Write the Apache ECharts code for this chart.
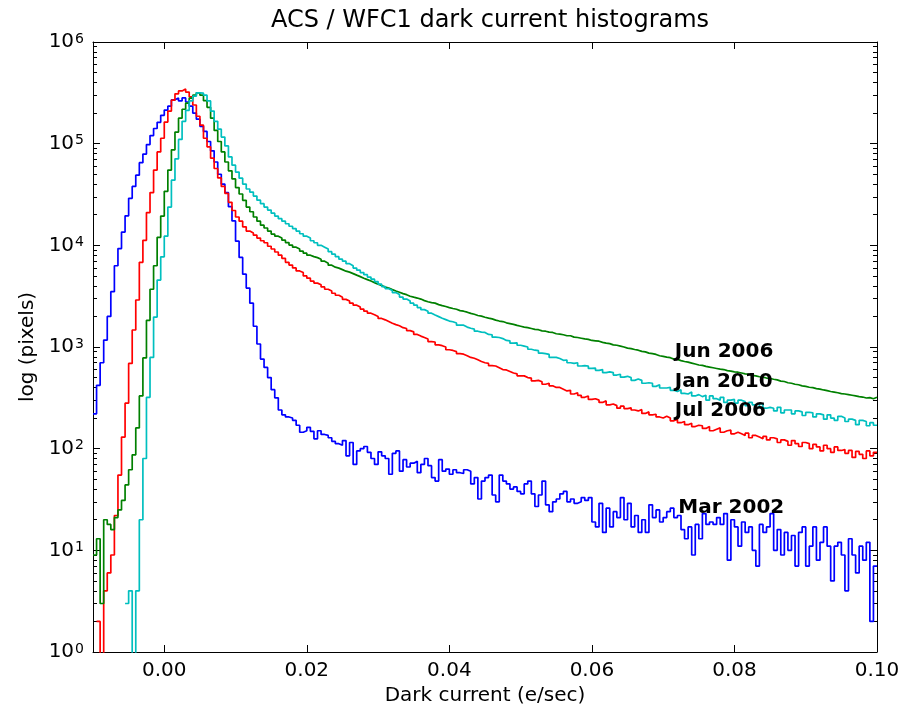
<!DOCTYPE html>
<html>
<head>
<meta charset="utf-8">
<script src="https://cdn.jsdelivr.net/npm/echarts@6/dist/echarts.min.js"></script>
<style>
html,body{margin:0;padding:0;background:#fff;}
#chart{width:903px;height:704px;}
</style>
</head>
<body>
<div id="chart"></div>
<script>
// Histogram bins: left edges start at binStart, each binWidth wide (e/sec)
const binStart = -0.01;
const binWidth = 0.0005;

// Pixel counts per bin
const mar2002 = [
220,420,700,1170,2000,3500,6300,9300,13500,19500,
29000,38000,49000,65000,79000,98000,120000,141000,162000,190000,
214000,234000,270000,282000,263000,282000,257000,234000,200000,174000,
148000,132000,105000,85000,66000,50000,40000,33000,24000,17400,
11000,7600,5200,3800,2700,1600,1070,760,630,500,
380,316,240,215,205,200,190,170,145,150,
162,148,125,150,138,135,128,118,112,108,
120,85,115,70,95,100,105,92,80,70,
93,85,80,56,90,95,60,78,66,72,
75,58,70,80,68,52,48,78,60,63,
56,62,58,57,62,60,45,52,32,48,
52,55,35,30,55,48,45,40,42,38,
36,45,48,36,27,35,48,28,24,30,
32,36,38,30,32,29,30,33,31,33,
19,17,29,15,26,17,24,21,33,20,
29,17,22,15,20,15,28,21,25,19,
21,24,26,21,22,16,13,17,9,18,
13,23,18,19,18,21,18,23,8,20,
17,11,19,15,17,10,7,18,15,17,
23,10,16,9,15,10,14,7,15,17,
7,11,17,8,12,17,11,5,11,12,
9,4,13,9,6,11,8,12,2,7
];
const jul2006 = [
0,2,0,4,6,9,22,55,130,280,
690,1470,2900,6800,11200,21000,33000,55000,83000,113000,
163000,209000,268000,309000,330000,345000,322000,288000,240000,186000,
152000,113000,93000,72000,57000,46000,38000,32500,26500,22000,
19000,17300,15200,13800,13200,12600,11800,11100,10600,9800,
9200,8600,8000,7450,6800,6400,6000,5600,5400,5000,
4750,4450,4250,4100,3900,3700,3550,3380,3230,3090,
2940,2830,2700,2580,2470,2360,2250,2150,2080,2000,
1910,1850,1780,1710,1660,1620,1550,1520,1450,1410,
1330,1280,1240,1200,1130,1120,1050,1030,1000,940,
925,900,860,850,820,790,775,750,720,700,
690,655,650,625,600,595,575,555,545,520,
520,500,495,465,470,455,430,440,415,400,
400,385,370,375,345,355,335,320,330,305,
310,300,285,295,270,275,265,250,262,248,
252,240,235,242,222,230,215,218,205,200,
208,200,188,195,180,185,172,178,165,170,
168,158,165,150,155,160,145,150,152,140,
145,140,135,142,128,135,130,125,132,122,
128,125,115,122,118,108,120,112,105,115,
112,100,110,104,95,108,100,92,104,96,
98,90,96,82,94,88,80,95,85,92
];
const jun2006 = [
9,13,3,20,18,16,21,25,31,44,
62,87,160,330,780,1830,3700,6300,12000,19400,
34000,55000,87000,130000,178000,218000,250000,280000,300000,316000,
300000,265000,228000,178000,135000,105000,83000,66000,54000,45000,
37000,32000,27700,23800,21400,19000,17300,15800,14800,13800,
12900,12300,11800,11250,10640,10050,9600,9180,8770,8380,
8000,7740,7570,7310,6980,6680,6380,6100,5970,5770,
5570,5450,5270,5090,4920,4750,4600,4450,4300,4150,
4020,3880,3800,3670,3550,3460,3350,3270,3160,3090,
3030,2960,2860,2790,2730,2700,2610,2550,2500,2440,
2390,2350,2280,2250,2200,2140,2100,2040,2010,1960,
1920,1890,1840,1800,1780,1730,1700,1670,1630,1600,
1570,1550,1520,1490,1480,1440,1430,1400,1390,1350,
1340,1320,1290,1290,1250,1240,1220,1200,1190,1160,
1150,1140,1110,1090,1080,1050,1040,1020,1000,975,
965,945,930,905,895,870,860,845,820,810,
795,785,760,755,735,720,710,695,680,665,
660,645,635,625,615,605,600,585,580,570,
565,555,545,540,525,520,510,505,495,490,
482,475,462,458,445,440,430,425,415,410,
402,398,390,385,378,372,365,360,355,348,
345,340,335,330,325,322,315,318,310,320
];
const jan2010 = [
0,0,0,0,0,0,0,0,0,3,
4,0,4,20,80,320,790,1970,4550,7700,
12300,23800,43700,71000,110000,166000,213000,263000,293000,316000,
314000,300000,263000,209000,166000,139000,116000,95000,74000,61500,
52500,45800,40000,35800,33400,30500,27800,25700,23800,22200,
20700,19400,18300,17300,16300,15400,14600,13800,13000,12300,
11800,11100,10600,10000,9600,9180,8670,8190,7740,7310,
6980,6600,6310,5970,5700,5390,5150,4870,4650,4400,
4150,3930,3750,3590,3430,3280,3100,2960,2830,2700,
2580,2440,2330,2250,2150,2060,1990,1920,1860,1800,
1770,1720,1640,1640,1570,1530,1500,1430,1400,1390,
1330,1320,1250,1240,1210,1160,1150,1090,1100,1040,
1020,1000,950,930,920,870,860,845,790,790,
770,740,745,700,690,700,650,655,650,615,
620,590,600,560,570,560,530,540,505,515,
500,470,485,470,440,445,440,410,425,395,
395,400,375,365,380,350,345,360,330,340,
325,335,300,330,310,300,320,285,300,305,
280,300,290,265,285,270,255,275,250,255,
250,235,255,225,240,240,220,235,230,212,
228,225,205,220,215,195,215,200,190,208,
200,185,195,190,172,190,185,168,180,170
];

const seriesNames = ['Mar 2002', 'Jul 2006', 'Jun 2006', 'Jan 2010'];
const seriesColors = ['#0000ff', '#ff0000', '#008000', '#00bfbf'];
const seriesCounts = [mar2002, jul2006, jun2006, jan2010];

// Text annotations (data coordinates)
const annoText = ['Jun 2006', 'Jan 2010', 'Jul 2006', 'Mar 2002'];
const annoX = [0.0717, 0.0717, 0.0717, 0.0722];
const annoY = [796, 404, 210, 23];

// Axis ticks
const xTickValues = [0, 0.02, 0.04, 0.06, 0.08, 0.10];
const yMajorTicks = [1, 10, 100, 1000, 10000, 100000, 1000000];
const yMinorTicks = [];
for (let d = 1; d < 1000000; d *= 10) {
  for (let m = 2; m <= 9; m++) yMinorTicks.push(m * d);
}

function toStepData(counts) {
  const pts = [];
  let started = false;
  for (let i = 0; i < counts.length; i++) {
    const c = counts[i];
    if (c > 0) started = true;
    const x = +(binStart + i * binWidth).toFixed(5);
    pts.push([x, started ? (c > 0 ? c : 0.1) : '-']);
  }
  pts.push([+(binStart + counts.length * binWidth).toFixed(5), counts[counts.length - 1]]);
  return pts;
}

const FONT = 'DejaVu Sans';
const chart = echarts.init(document.getElementById('chart'), null, {renderer: 'canvas'});

const xCommon = {
  type: 'value', min: -0.01, max: 0.10,
  splitLine: {show: false},
  axisLine: {show: true, onZero: false, lineStyle: {color: '#000', width: 1}},
};
const yCommon = {
  type: 'log', logBase: 10, min: 1, max: 1000000,
  splitLine: {show: false},
  axisLine: {show: true, onZero: false, lineStyle: {color: '#000', width: 1}},
};

const series = seriesCounts.map((counts, k) => ({
  name: seriesNames[k],
  type: 'line',
  step: 'end',
  data: toStepData(counts),
  showSymbol: false,
  symbol: 'none',
  connectNulls: false,
  clip: true,
  lineStyle: {color: seriesColors[k], width: 1.7},
  itemStyle: {color: seriesColors[k]},
  emphasis: {disabled: true},
  animation: false,
  z: 2 + k
}));

series.push({
  type: 'scatter',
  data: annoText.map((t, i) => [annoX[i], annoY[i], t]),
  symbolSize: 1,
  itemStyle: {color: '#ffffff', opacity: 1},
  silent: true,
  animation: false,
  z: 10,
  label: {
    show: true,
    position: [0, 0],
    align: 'left',
    verticalAlign: 'bottom',
    offset: [0, 5],
    formatter: p => p.data[2],
    fontFamily: FONT,
    fontWeight: 'bold',
    fontSize: 20,
    color: '#000000',
    opacity: 1,
    textBorderWidth: 0,
    textShadowBlur: 0
  },
  emphasis: {disabled: true}
});

const option = {
  backgroundColor: '#fff',
  animation: false,
  title: {
    text: 'ACS / WFC1 dark current histograms',
    left: 485, top: 4, textAlign: 'center',
    textStyle: {fontFamily: FONT, fontSize: 24, fontWeight: 'normal', color: '#000'}
  },
  grid: {left: 93, right: 26, top: 42, bottom: 52, containLabel: false, outerBoundsMode: 'none'},
  xAxis: [
    Object.assign({}, xCommon, {
      position: 'bottom',
      name: 'Dark current (e/sec)', nameLocation: 'middle', nameGap: 25,
      nameTextStyle: {fontFamily: FONT, fontSize: 20, color: '#000'},
      axisTick: {show: true, inside: true, length: 7, customValues: xTickValues, lineStyle: {color: '#000'}},
      axisLabel: {show: true, customValues: xTickValues, margin: 9,
        formatter: v => v.toFixed(2), fontFamily: FONT, fontSize: 20, color: '#000'}
    }),
    Object.assign({}, xCommon, {
      position: 'top',
      axisTick: {show: true, inside: true, length: 7, customValues: xTickValues, lineStyle: {color: '#000'}},
      axisLabel: {show: false}
    })
  ],
  yAxis: [
    Object.assign({}, yCommon, {
      position: 'left',
      name: 'log (pixels)', nameLocation: 'middle', nameGap: 55, nameRotate: 90,
      nameTextStyle: {fontFamily: FONT, fontSize: 20, color: '#000'},
      axisTick: {show: true, inside: true, length: 7, customValues: yMajorTicks, lineStyle: {color: '#000'}},
      axisLabel: {show: true, customValues: yMajorTicks, margin: 9,
        formatter: v => '{b|10}{s|' + Math.round(Math.log10(v)) + '}',
        rich: {
          b: {fontFamily: FONT, fontSize: 20, lineHeight: 20, verticalAlign: 'bottom', color: '#000'},
          s: {fontFamily: FONT, fontSize: 14, lineHeight: 14, verticalAlign: 'top', padding: [0, 0, 12, 1], color: '#000'}
        }
      }
    }),
    Object.assign({}, yCommon, {
      position: 'right',
      axisTick: {show: true, inside: true, length: 7, customValues: yMajorTicks, lineStyle: {color: '#000'}},
      axisLabel: {show: false}
    }),
    Object.assign({}, yCommon, {
      position: 'left',
      axisLine: {show: false, onZero: false},
      axisTick: {show: true, inside: true, length: 4, customValues: yMinorTicks, lineStyle: {color: '#000'}},
      axisLabel: {show: false}
    }),
    Object.assign({}, yCommon, {
      position: 'right',
      axisLine: {show: false, onZero: false},
      axisTick: {show: true, inside: true, length: 4, customValues: yMinorTicks, lineStyle: {color: '#000'}},
      axisLabel: {show: false}
    })
  ],
  series: series
};
chart.setOption(option);
</script>
</body>
</html>
